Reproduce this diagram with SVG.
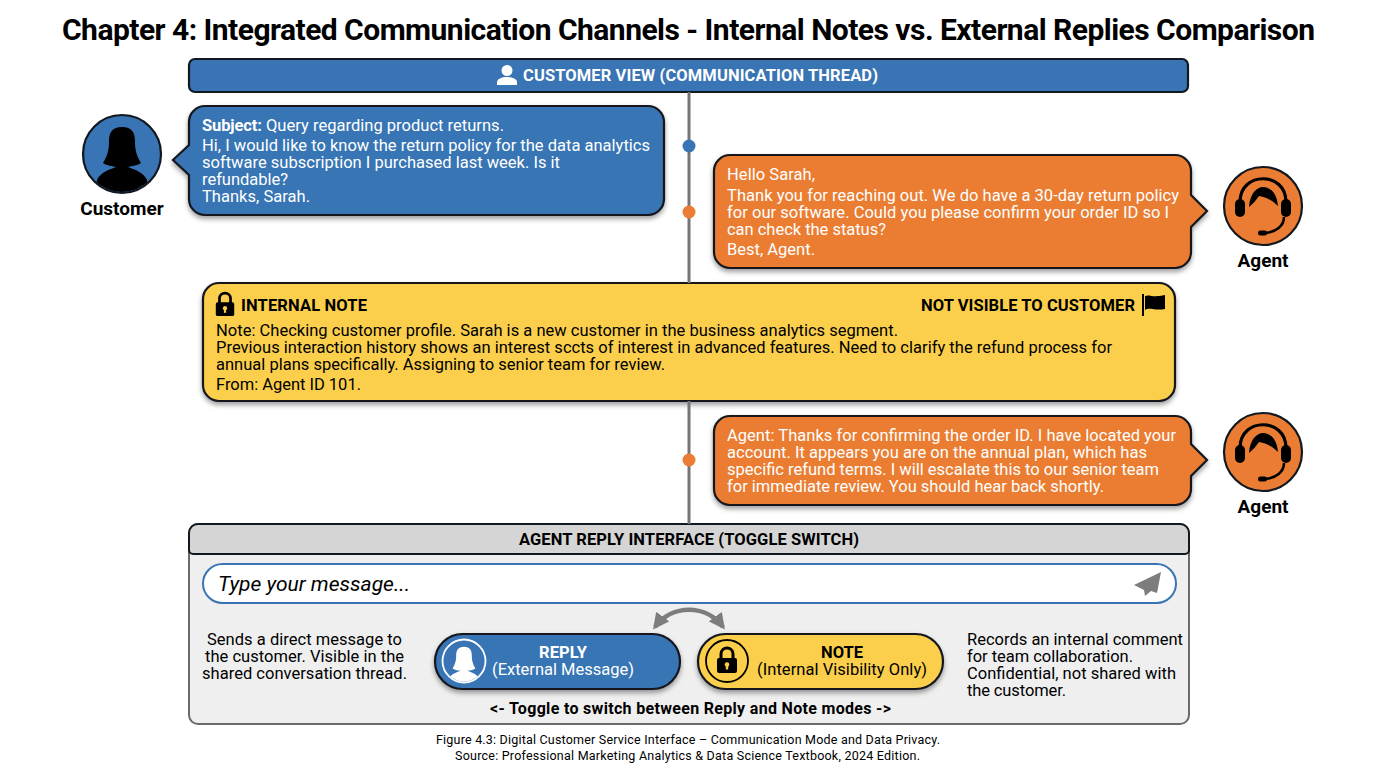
<svg xmlns="http://www.w3.org/2000/svg" width="1376" height="768" viewBox="0 0 1376 768">
<style>
text{font-family:Roboto,"Liberation Sans",sans-serif;fill:#000}
text.w{fill:#fff}
.b{font-weight:700}
.body{font-size:16.5px}
.name{font-size:19px;font-weight:700;text-anchor:middle}
.blue{fill:#3974b4}
.orange{fill:#ea7d33}
.yellow{fill:#fbcf4c}
.edge{stroke:#12181f;stroke-width:2.2}
.shadow{filter:url(#sh)}
</style>
<defs>
<filter id="sh" x="-5%" y="-15%" width="110%" height="135%"><feDropShadow dx="0" dy="3" stdDeviation="2.5" flood-color="#000" flood-opacity=".38"/></filter>
<marker id="ah" viewBox="0 0 10 10" refX="8" refY="5" markerWidth="3.6" markerHeight="3.6" orient="auto-start-reverse"><path d="M0 0L10 5L0 10Z" fill="#7d7d7d"/></marker>
<path id="woman" d="M0-27C-10-27-13-21-13-13C-13-5-14 1-19 9C-15 12-9 12-6 13C-14 16-22 19-25 26L-27 42L27 42L25 26C22 19 14 16 6 13C9 12 15 12 19 9C14 1 13-5 13-13C13-21 10-27 0-27Z"/>
<g id="headset">
<path d="M-23-4C-23-35 23-35 23-4" fill="none" stroke="#000" stroke-width="3.2"/>
<path d="M-14 1C-13-13-6-19 0-19C8-19 14-12 15 0C9-6 3-9-4-10C-7-6-10-2-14 1Z" fill="#000"/>
<rect x="-28" y="-7" width="10" height="18" rx="5" fill="#000"/>
<rect x="18" y="-7" width="10" height="18" rx="5" fill="#000"/>
<path d="M21 11C21 20 13 26 2 27" fill="none" stroke="#000" stroke-width="2.6"/>
<rect x="-5" y="24.500" width="9" height="5" rx="2.500" fill="#000"/>
</g>
<g id="lock">
<path d="M-6-2V-7C-6-15 6-15 6-7V-2" fill="none" stroke="#000" stroke-width="3"/>
<rect x="-10" y="-3" width="20" height="15" rx="2" fill="#000"/>
<circle cx="0" cy="3.500" r="2.300" fill="#fbcf4c"/>
<rect x="-1.200" y="3.500" width="2.400" height="5" fill="#fbcf4c"/>
</g>
</defs>

<rect width="1376" height="768" fill="#fff"/>
<text id="title" x="62" y="40" font-size="30" class="b" textLength="1253">Chapter 4: Integrated Communication Channels - Internal Notes vs. External Replies Comparison</text>

<g id="customer-view-header">
<rect x="189" y="59" width="999" height="33" rx="6" class="blue edge"/>
<circle cx="507" cy="70.500" r="5.500" fill="#fff"/>
<path d="M497 85V82C497 79 502 77 507 77C512 77 517 79 517 82V85Z" fill="#fff"/>
<text x="523" y="81" class="w b body" textLength="355">CUSTOMER VIEW (COMMUNICATION THREAD)</text>
</g>

<g id="customer">
<circle cx="122" cy="154" r="39" class="blue edge"/>
<clipPath id="cc"><circle cx="122" cy="154" r="38"/></clipPath>
<g clip-path="url(#cc)"><use href="#woman" x="122" y="154" fill="#000"/></g>
<text x="122" y="215" class="name">Customer</text>
</g>

<g id="customer-message">
<path class="blue edge shadow" d="M205 106H648A16 16 0 0 1 664 122V199A16 16 0 0 1 648 215H205A16 16 0 0 1 189 199V175L173 160L189 145V122A16 16 0 0 1 205 106Z"/>
<text x="202" y="130.500" class="w b body" textLength="60">Subject:</text>
<text x="266" y="130.500" class="w body" textLength="238">Query regarding product returns.</text>
<text x="202" y="151" class="w body" textLength="448">Hi, I would like to know the return policy for the data analytics</text>
<text x="202" y="168" class="w body" textLength="358">software subscription I purchased last week. Is it</text>
<text x="202" y="185" class="w body" textLength="86">refundable?</text>
<text x="202" y="202" class="w body" textLength="108">Thanks, Sarah.</text>
</g>

<g id="agent-message-1">
<path class="orange edge shadow" d="M730 155H1175A16 16 0 0 1 1191 171V195L1207 211L1191 227V252A16 16 0 0 1 1175 268H730A16 16 0 0 1 714 252V171A16 16 0 0 1 730 155Z"/>
<text x="727" y="180" class="w body" textLength="88">Hello Sarah,</text>
<text x="727" y="201" class="w body" textLength="452">Thank you for reaching out. We do have a 30-day return policy</text>
<text x="727" y="218" class="w body" textLength="442">for our software. Could you please confirm your order ID so I</text>
<text x="727" y="235" class="w body" textLength="159">can check the status?</text>
<text x="727" y="255" class="w body" textLength="88">Best, Agent.</text>
</g>

<g id="agent-1">
<circle cx="1263" cy="206" r="39" class="orange edge"/>
<use href="#headset" x="1263" y="206"/>
<text x="1263" y="267" class="name">Agent</text>
</g>

<g id="internal-note">
<rect x="203" y="283" width="972" height="118" rx="16" class="yellow edge shadow"/>
<use href="#lock" transform="translate(225 305) scale(.92)"/>
<text x="241" y="311" class="b body" textLength="126">INTERNAL NOTE</text>
<text x="921" y="311" class="b body" textLength="214">NOT VISIBLE TO CUSTOMER</text>
<path d="M1143 294V316" stroke="#000" stroke-width="2" fill="none"/>
<path d="M1145 296C1150 294 1152 298 1165 295V309C1155 311 1150 307 1145 310Z" fill="#000"/>
<text x="216" y="336" class="body" textLength="682">Note: Checking customer profile. Sarah is a new customer in the business analytics segment.</text>
<text x="216" y="353" class="body" textLength="896">Previous interaction history shows an interest sccts of interest in advanced features. Need to clarify the refund process for</text>
<text x="216" y="370" class="body" textLength="449">annual plans specifically. Assigning to senior team for review.</text>
<text x="216" y="390" class="body" textLength="145">From: Agent ID 101.</text>
</g>

<g id="agent-message-2">
<path class="orange edge shadow" d="M730 416H1175A16 16 0 0 1 1191 432V444L1207 460L1191 476V489A16 16 0 0 1 1175 505H730A16 16 0 0 1 714 489V432A16 16 0 0 1 730 416Z"/>
<text x="727" y="441" class="w body" textLength="449">Agent: Thanks for confirming the order ID. I have located your</text>
<text x="727" y="458" class="w body" textLength="420">account. It appears you are on the annual plan, which has</text>
<text x="727" y="475" class="w body" textLength="432">specific refund terms. I will escalate this to our senior team</text>
<text x="727" y="492" class="w body" textLength="377">for immediate review. You should hear back shortly.</text>
</g>

<g id="agent-2">
<circle cx="1263" cy="452" r="39" class="orange edge"/>
<use href="#headset" x="1263" y="452"/>
<text x="1263" y="513" class="name">Agent</text>
</g>

<g id="reply-interface">
<rect x="189" y="524" width="1000" height="200" rx="9" fill="#efefef" stroke="#6b6b6b" stroke-width="2"/>
<path d="M198 524H1180A9 9 0 0 1 1189 533V550A4 4 0 0 1 1185 554H193A4 4 0 0 1 189 550V533A9 9 0 0 1 198 524Z" fill="#d5d5d5" stroke="#12181f" stroke-width="2"/>
<text x="519" y="545" class="b body" textLength="340">AGENT REPLY INTERFACE (TOGGLE SWITCH)</text>
<rect x="203" y="564" width="973" height="39" rx="19.500" fill="#fff" stroke="#3974b4" stroke-width="2"/>
<text x="218" y="591" font-size="21" font-style="italic" fill="#222" textLength="192">Type your message...</text>
<path d="M1161 572L1134 585L1144 590L1145 596L1151 591L1157 593Z" fill="#7d7d7d"/>
<text x="207" y="645" class="body" textLength="195">Sends a direct message to</text>
<text x="205" y="662" class="body" textLength="199">the customer. Visible in the</text>
<text x="202" y="679" class="body" textLength="205">shared conversation thread.</text>
<text x="967" y="645" class="body" textLength="216">Records an internal comment</text>
<text x="967" y="662" class="body" textLength="166">for team collaboration.</text>
<text x="967" y="679" class="body" textLength="209">Confidential, not shared with</text>
<text x="967" y="696" class="body" textLength="99">the customer.</text>
<text x="490" y="714" font-size="16" class="b" textLength="401">&lt;- Toggle to switch between Reply and Note modes -&gt;</text>
</g>

<g id="reply-toggle">
<rect x="435" y="634" width="245" height="55" rx="27.500" class="blue edge shadow"/>
<circle cx="464" cy="661" r="21.500" fill="#3974b4" stroke="#fff" stroke-width="1.800"/>
<clipPath id="cr"><circle cx="464" cy="661" r="20.500"/></clipPath>
<g clip-path="url(#cr)"><use href="#woman" transform="translate(464 663) scale(.6)" fill="#fff"/></g>
<text x="539" y="658" class="w b body" textLength="48">REPLY</text>
<text x="492" y="675" class="w body" textLength="142">(External Message)</text>
</g>

<g id="note-toggle">
<rect x="698" y="634" width="245" height="55" rx="27.500" class="yellow edge shadow"/>
<circle cx="727" cy="661" r="21" fill="none" stroke="#000" stroke-width="1.800"/>
<use href="#lock" x="727" y="661"/>
<text x="821" y="658" class="b body" textLength="42">NOTE</text>
<text x="757" y="675" class="body" textLength="170">(Internal Visibility Only)</text>
</g>

<g id="connectors">
<line x1="689" y1="92" x2="689" y2="283" stroke="#757575" stroke-width="3"/>
<line x1="689" y1="401" x2="689" y2="524" stroke="#757575" stroke-width="3"/>
<circle cx="689" cy="146" r="6.500" class="blue"/>
<circle cx="689" cy="212" r="6.500" class="orange"/>
<circle cx="689" cy="460" r="6.500" class="orange"/>
<path d="M655 627C672 604 706 604 723 627" fill="none" stroke="#7d7d7d" stroke-width="4.500" marker-start="url(#ah)" marker-end="url(#ah)"/>
</g>

<g id="caption">
<text x="436" y="744" font-size="12.500" textLength="504">Figure 4.3: Digital Customer Service Interface – Communication Mode and Data Privacy.</text>
<text x="455" y="760" font-size="12.500" textLength="465">Source: Professional Marketing Analytics &amp; Data Science Textbook, 2024 Edition.</text>
</g>
</svg>
